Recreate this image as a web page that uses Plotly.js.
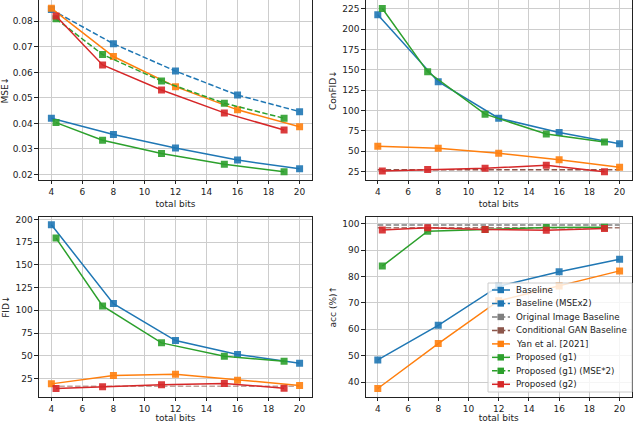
<!DOCTYPE html>
<html>
<head>
<meta charset="utf-8">
<script src="https://cdn.plot.ly/plotly-3.0.1.min.js"></script>
<style>
  html, body { margin: 0; padding: 0; background: #fff; }
  #chart { width: 640px; height: 423px; }
</style>
</head>
<body>
<div id="chart"></div>
<script>
// ---------- data ----------
const bitsBase = [4, 8, 12, 16, 20];
const bitsProp = [4.3, 7.3, 11.1, 15.15, 19];

const mseBaseline   = [0.0420, 0.0356, 0.0303, 0.0256, 0.0222];
const mseBaselineX2 = [0.0846, 0.0712, 0.0605, 0.0511, 0.0446];
const mseYan        = [0.0851, 0.0662, 0.0544, 0.0453, 0.0387];
const mseG1         = [0.0403, 0.0334, 0.0282, 0.0240, 0.0210];
const mseG1X2       = [0.0810, 0.0670, 0.0566, 0.0479, 0.0420];
const mseG2         = [0.0821, 0.0629, 0.0531, 0.0441, 0.0374];

const confidBaseline = [217.7, 135.4, 90.6, 73.1, 59.2];
const confidYan      = [56.0, 53.5, 47.4, 39.6, 30.3];
const confidG1       = [225.4, 147.6, 95.5, 71.1, 61.3];
const confidG2       = [25.8, 27.4, 29.0, 32.7, 24.6];
const confidCondGan  = 27.2;

const fidBaseline = [194.1, 107.4, 66.7, 51.4, 41.8];
const fidYan      = [19.1, 28.3, 29.8, 23.2, 17.3];
const fidG1       = [179.5, 104.8, 64.2, 49.5, 44.0];
const fidG2       = [14.0, 15.8, 18.0, 19.5, 14.4];
const fidCondGan  = 16.6;

const accBaseline = [48.4, 61.5, 76.3, 81.75, 86.5];
const accYan      = [37.6, 54.6, 70.8, 76.4, 82.1];
const accG1       = [83.9, 97.1, 97.75, 98.5, 98.6];
const accG2       = [97.6, 98.4, 97.75, 97.5, 98.1];
const accOrig     = 99.5;
const accCondGan  = 98.4;

const legendNames = [
  'Baseline', 'Baseline (MSEx2)', 'Original Image Baseline', 'Conditional GAN Baseline',
  'Yan et al. [2021]', 'Proposed (g1)', 'Proposed (g1) (MSE*2)', 'Proposed (g2)'
];

// ---------- styles ----------
const C = {
  blue: '#1f77b4', orange: '#ff7f0e', green: '#2ca02c',
  red: '#d62728', brown: '#8c564b', gray: '#7f7f7f'
};
const DASH = '5.5px,2.4px';
const FONT = 'DejaVu Sans, sans-serif';
const W = 640, H = 423;

function series(x, y, color, dashed, ax) {
  return {
    x, y, xaxis: 'x' + ax, yaxis: 'y' + ax,
    type: 'scatter', mode: 'lines+markers',
    line: { color, width: 1.5, dash: dashed ? DASH : 'solid' },
    marker: { symbol: 'square', size: 7, color, opacity: 0.9 },
    showlegend: false, hoverinfo: 'x+y'
  };
}

function hline(level, color, ax, opacity) {
  return {
    x: [bitsBase[0], bitsBase[bitsBase.length - 1]], y: [level, level],
    xaxis: 'x' + ax, yaxis: 'y' + ax,
    type: 'scatter', mode: 'lines', opacity: opacity || 1,
    line: { color, width: 1.5, dash: DASH },
    showlegend: false, hoverinfo: 'y'
  };
}

const axN = ['', '2', '3', '4'];
const data = [
  // MSE (top-left)
  series(bitsBase, mseBaseline, C.blue, false, axN[0]),
  series(bitsBase, mseBaselineX2, C.blue, true, axN[0]),
  series(bitsBase, mseYan, C.orange, false, axN[0]),
  series(bitsProp, mseG1, C.green, false, axN[0]),
  series(bitsProp, mseG1X2, C.green, true, axN[0]),
  series(bitsProp, mseG2, C.red, false, axN[0]),
  // ConFID (top-right)
  series(bitsBase, confidBaseline, C.blue, false, axN[1]),
  hline(confidCondGan, C.brown, axN[1]),
  series(bitsBase, confidYan, C.orange, false, axN[1]),
  series(bitsProp, confidG1, C.green, false, axN[1]),
  series(bitsProp, confidG2, C.red, false, axN[1]),
  // FID (bottom-left)
  series(bitsBase, fidBaseline, C.blue, false, axN[2]),
  hline(fidCondGan, C.brown, axN[2], 0.55),
  series(bitsBase, fidYan, C.orange, false, axN[2]),
  series(bitsProp, fidG1, C.green, false, axN[2]),
  series(bitsProp, fidG2, C.red, false, axN[2]),
  // acc (bottom-right)
  series(bitsBase, accBaseline, C.blue, false, axN[3]),
  hline(accOrig, C.gray, axN[3]),
  hline(accCondGan, C.brown, axN[3], 0.8),
  series(bitsBase, accYan, C.orange, false, axN[3]),
  series(bitsProp, accG1, C.green, false, axN[3]),
  series(bitsProp, accG2, C.red, false, axN[3])
];

// ---------- axes ----------
const xLeft = [0.0609, 0.4875], xRight = [0.5714, 0.987];
const yTop = [0.5745, 0.999], yBot = [0.0622, 0.4877];

function xAxis(domain, anchor) {
  return {
    domain, anchor, range: [3.2, 20.8], tickvals: [4, 6, 8, 10, 12, 14, 16, 18, 20],
    title: { text: 'total bits', font: { size: 9 }, standoff: 4 },
    showline: true, mirror: true, linecolor: '#222', linewidth: 1,
    ticks: 'outside', ticklen: 3.5, tickcolor: '#222', tickfont: { size: 9 },
    showgrid: true, gridcolor: '#cdcdcd', gridwidth: 1, zeroline: false
  };
}
function yAxis(domain, anchor, range, dtick, title, fmt) {
  return {
    domain, anchor, range, dtick, tickformat: fmt || '',
    title: { text: title, font: { size: 9 }, standoff: 4 },
    showline: true, mirror: true, linecolor: '#222', linewidth: 1,
    ticks: 'outside', ticklen: 3.5, tickcolor: '#222', tickfont: { size: 9 },
    showgrid: true, gridcolor: '#cdcdcd', gridwidth: 1, zeroline: false
  };
}

// ---------- legend (drawn in the bottom-right panel, matplotlib-like) ----------
const legStyles = [
  { color: C.blue, dash: 'solid' },
  { color: C.blue, dash: DASH },
  { color: C.gray, dash: DASH },
  { color: C.brown, dash: DASH },
  { color: C.orange, dash: 'solid' },
  { color: C.green, dash: 'solid' },
  { color: C.green, dash: DASH },
  { color: C.red, dash: 'solid' }
];
const px = v => v / W, py = v => 1 - v / H;
const legBox = { l: 488, t: 283, r: 632, b: 392 };
const legRow0 = 290, legGap = 13.47;

const shapes = [{
  type: 'rect', xref: 'paper', yref: 'paper', layer: 'above',
  x0: px(legBox.l), x1: px(legBox.r), y0: py(legBox.b), y1: py(legBox.t),
  fillcolor: 'rgba(255,255,255,0.8)', line: { color: '#cccccc', width: 1 }
}];
const annotations = [];
legendNames.forEach((name, i) => {
  const yy = legRow0 + i * legGap, s = legStyles[i];
  shapes.push({
    type: 'line', xref: 'paper', yref: 'paper', layer: 'above',
    x0: px(492), x1: px(510), y0: py(yy), y1: py(yy),
    line: { color: s.color, width: 1.5, dash: s.dash }
  });
  shapes.push({
    type: 'rect', xref: 'paper', yref: 'paper', layer: 'above',
    x0: px(497.5), x1: px(504), y0: py(yy + 3.2), y1: py(yy - 3.2),
    fillcolor: s.color, line: { width: 0 }
  });
  annotations.push({
    xref: 'paper', yref: 'paper', x: px(514), y: py(yy),
    xanchor: 'left', yanchor: 'middle', showarrow: false,
    text: name, font: { size: 8.7, color: '#222' }
  });
});

const layout = {
  width: W, height: H,
  margin: { l: 0, r: 0, t: 0, b: 0 },
  paper_bgcolor: '#fff', plot_bgcolor: '#fff',
  font: { family: FONT, size: 9, color: '#222' },
  showlegend: false,
  xaxis: xAxis(xLeft, 'y'),
  yaxis: yAxis(yTop, 'x', [0.0178, 0.0882], 0.01, 'MSE↓', '.2f'),
  xaxis2: xAxis(xRight, 'y2'),
  yaxis2: yAxis(yTop, 'x2', [14.6, 235.4], 25, 'ConFID↓'),
  xaxis3: xAxis(xLeft, 'y3'),
  yaxis3: yAxis(yBot, 'x3', [5, 203], 25, 'FID↓'),
  xaxis4: xAxis(xRight, 'y4'),
  yaxis4: yAxis(yBot, 'x4', [34.5, 102.6], 10, 'acc (%)↑'),
  shapes, annotations
};

Plotly.newPlot('chart', data, layout, { displayModeBar: false, staticPlot: true });
</script>
</body>
</html>
